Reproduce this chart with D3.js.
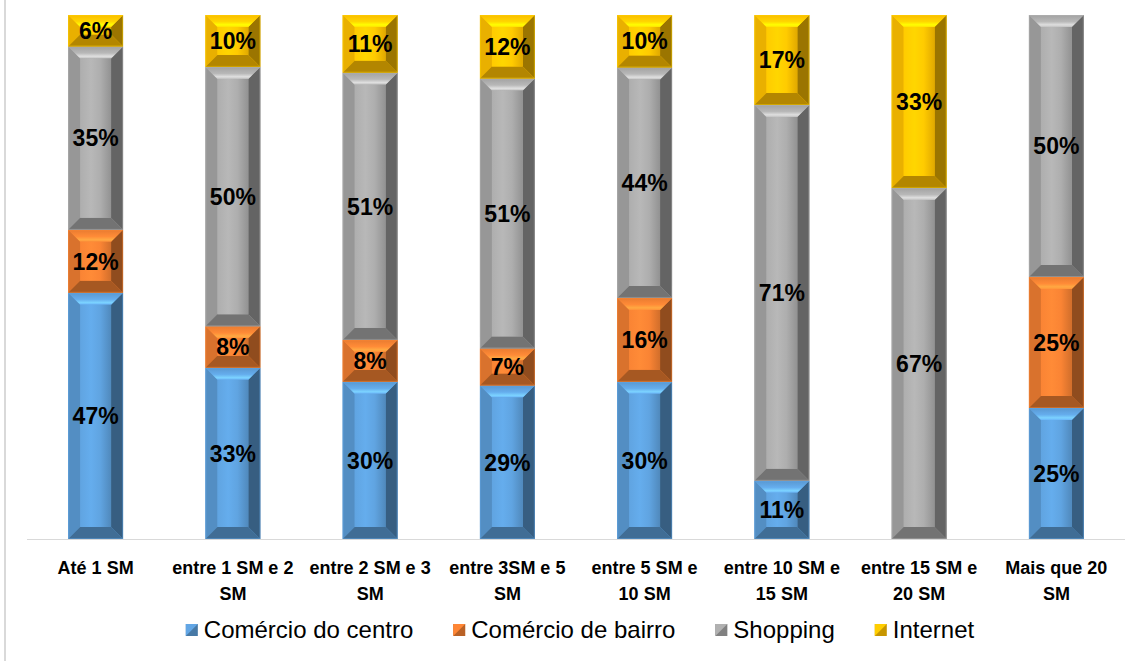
<!DOCTYPE html>
<html>
<head>
<meta charset="utf-8">
<script src="https://cdn.jsdelivr.net/npm/d3@7"></script>
<style>
  html, body { margin: 0; padding: 0; background: #fff; }
  svg { display: block; font-family: "Liberation Sans", Arial, sans-serif; }
</style>
</head>
<body>
<script>
// categories and series (percent labels)
const categories = [
  "Até 1 SM", "entre 1 SM e 2 SM", "entre 2 SM e 3 SM", "entre 3SM e 5 SM",
  "entre 5 SM e 10 SM", "entre 10 SM e 15 SM", "entre 15 SM e 20 SM", "Mais que 20 SM"
];
const seriesNames = ["Comércio do centro", "Comércio de bairro", "Shopping", "Internet"];
const centro = [47, 33, 30, 29, 30, 11, 0, 25];
const bairro = [12, 8, 8, 7, 16, 0, 0, 25];
const shopping = [35, 50, 51, 51, 44, 71, 67, 50];
const internet = [6, 10, 11, 12, 10, 17, 33, 0];
const colors = ["#5b9bd5", "#ed7d31", "#a5a5a5", "#ffc000"];

const width = 1128, height = 661;
const margin = { top: 15, right: 3, bottom: 122, left: 27 };

const rows = categories.map((c, i) => ({
  cat: c,
  [seriesNames[0]]: centro[i],
  [seriesNames[1]]: bairro[i],
  [seriesNames[2]]: shopping[i],
  [seriesNames[3]]: internet[i]
}));

const stacked = d3.stack().keys(seriesNames).offset(d3.stackOffsetExpand)(rows);

const svg = d3.select("body").append("svg")
  .attr("width", width)
  .attr("height", height);

const defs = svg.append("defs");

const x = d3.scaleBand()
  .domain(categories)
  .range([margin.left, width - margin.right])
  .paddingInner(0.6)
  .paddingOuter(0.3);

const y = d3.scaleLinear()
  .domain([0, 1])
  .range([height - margin.bottom, margin.top]);

// chart frame: only the left edge shows
svg.append("line")
  .attr("x1", 5).attr("x2", 5)
  .attr("y1", 0).attr("y2", height)
  .attr("stroke", "#d9d9d9").attr("stroke-width", 2);

// face and bevel gradients per series
colors.forEach((c, i) => {
  const base = d3.color(c);
  const g = defs.append("linearGradient")
    .attr("id", "face" + i)
    .attr("x1", "0%").attr("x2", "100%");
  g.append("stop").attr("offset", "0%").attr("stop-color", base.brighter(0.15));
  g.append("stop").attr("offset", "35%").attr("stop-color", base.brighter(0.3));
  g.append("stop").attr("offset", "65%").attr("stop-color", base.brighter(0.15));
  g.append("stop").attr("offset", "100%").attr("stop-color", base.darker(0.35));
  const t = defs.append("linearGradient")
    .attr("id", "top" + i)
    .attr("x1", "0%").attr("x2", "0%").attr("y1", "0%").attr("y2", "100%");
  t.append("stop").attr("offset", "0%").attr("stop-color", base.darker(0.05));
  t.append("stop").attr("offset", "55%").attr("stop-color", base.brighter(0.3));
  t.append("stop").attr("offset", "82%").attr("stop-color", base.brighter(0.85));
  t.append("stop").attr("offset", "100%").attr("stop-color", base.brighter(0.45));
});

// beveled segment
function bevel(g, x0, y0, x1, y1, color, idx) {
  const w = x1 - x0, h = y1 - y0;
  const b = Math.min(12, h / 2, w / 2);
  const base = d3.color(color);
  const poly = (pts, fill) => g.append("polygon")
    .attr("points", pts.map(p => p.join(",")).join(" "))
    .attr("fill", fill);
  g.append("rect")
    .attr("x", x0).attr("y", y0).attr("width", w).attr("height", h)
    .attr("fill", base);
  poly([[x0, y0], [x0 + b, y0 + b], [x0 + b, y1 - b], [x0, y1]], base.darker(0.25));
  poly([[x1, y0], [x1 - b, y0 + b], [x1 - b, y1 - b], [x1, y1]], base.darker(1.4));
  poly([[x0, y1], [x1, y1], [x1 - b, y1 - b], [x0 + b, y1 - b]], base.darker(1.0));
  poly([[x0, y0], [x1, y0], [x1 - b, y0 + b], [x0 + b, y0 + b]], `url(#top${idx})`);
  if (h - 2 * b > 0) {
    g.append("rect")
      .attr("x", x0 + b).attr("y", y0 + b)
      .attr("width", w - 2 * b).attr("height", h - 2 * b)
      .attr("fill", `url(#face${idx})`);
  }
  g.append("rect")
    .attr("x", x0 + 0.5).attr("y", y0 + 0.5).attr("width", w - 1).attr("height", Math.max(0, h - 1))
    .attr("fill", "none")
    .attr("stroke", base.brighter(0.3))
    .attr("stroke-opacity", 0.4)
    .attr("stroke-width", 1);
}

const layers = svg.append("g").attr("class", "bars");

stacked.forEach((layer, li) => {
  layer.forEach(d => {
    if (d[1] - d[0] <= 0) return;
    bevel(layers.append("g"), x(d.data.cat), y(d[1]), x(d.data.cat) + x.bandwidth(), y(d[0]), colors[li], li);
  });
});

// value labels
stacked.forEach(layer => {
  layers.append("g")
    .selectAll("text")
    .data(layer.filter(d => d.data[layer.key] > 0))
    .join("text")
    .attr("x", d => x(d.data.cat) + x.bandwidth() / 2)
    .attr("y", d => (y(d[0]) + y(d[1])) / 2)
    .attr("dy", "0.36em")
    .attr("text-anchor", "middle")
    .attr("font-size", 23)
    .attr("font-weight", "bold")
    .attr("fill", "#000")
    .text(d => d.data[layer.key] + "%");
});

// baseline
svg.append("line")
  .attr("x1", margin.left).attr("x2", width - margin.right)
  .attr("y1", y(0) + 0.5).attr("y2", y(0) + 0.5)
  .attr("stroke", "#d9d9d9");

// category labels with wrapping
const catG = svg.append("g")
  .attr("font-size", 18)
  .attr("font-weight", "bold")
  .attr("fill", "#000");

categories.forEach(c => {
  const cx = x(c) + x.bandwidth() / 2;
  const t = catG.append("text")
    .attr("x", cx)
    .attr("y", 574)
    .attr("text-anchor", "middle");
  let line = [];
  let tspan = t.append("tspan").attr("x", cx).attr("dy", 0);
  c.split(" ").forEach(w => {
    line.push(w);
    tspan.text(line.join(" "));
    if (tspan.node().getComputedTextLength() > 127 && line.length > 1) {
      line.pop();
      tspan.text(line.join(" "));
      line = [w];
      tspan = t.append("tspan").attr("x", cx).attr("dy", 26).text(w);
    }
  });
});

// legend
const legend = svg.append("g").attr("font-size", 24).attr("fill", "#000");
const gap = 40;
let lx = 0;
const items = [];
seriesNames.forEach((name, i) => {
  const g = legend.append("g");
  const base = d3.color(colors[i]);
  g.append("rect").attr("x", 0).attr("y", -6).attr("width", 12).attr("height", 12)
    .attr("fill", base.darker(0.7));
  g.append("polygon").attr("points", "0,-6 12,-6 0,6").attr("fill", base.brighter(0.2));
  const t = g.append("text").attr("x", 18).attr("dy", "0.35em").text(name);
  items.push({ g, x: lx });
  lx += 18 + t.node().getComputedTextLength() + gap;
});
const startX = 580 - (lx - gap) / 2;
items.forEach(it => it.g.attr("transform", `translate(${startX + it.x},630)`));
</script>
</body>
</html>
